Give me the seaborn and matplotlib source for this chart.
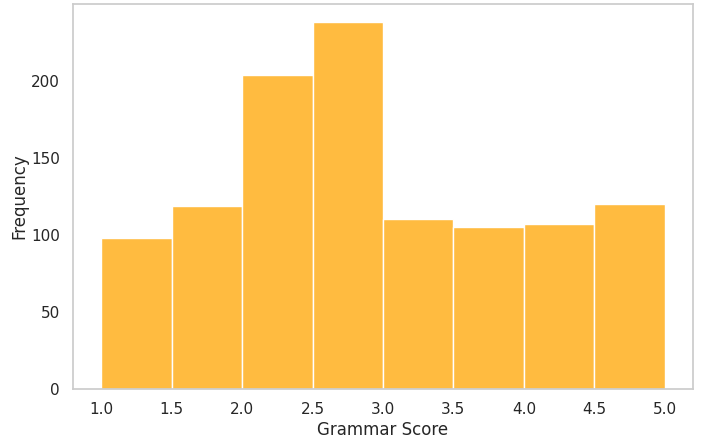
import matplotlib
matplotlib.use("Agg")
import matplotlib.pyplot as plt
import seaborn as sns
import numpy as np

bin_edges = [1.0, 1.5, 2.0, 2.5, 3.0, 3.5, 4.0, 4.5, 5.0]
counts = [98, 119, 204, 238, 110, 105, 107, 120]
centers = [(a + b) / 2 for a, b in zip(bin_edges[:-1], bin_edges[1:])]

sns.set_theme(style="whitegrid")
fig, ax = plt.subplots(figsize=(7.02, 4.4), dpi=100)
sns.histplot(x=centers, weights=counts, bins=bin_edges, color="orange", alpha=0.75,
             edgecolor="white", linewidth=1, ax=ax)
ax.grid(False)
ax.set_xlabel("Grammar Score", labelpad=3)
ax.set_ylabel("Frequency", labelpad=2)
ax.set_xticks([1.0, 1.5, 2.0, 2.5, 3.0, 3.5, 4.0, 4.5, 5.0])
for s in ax.spines.values():
    s.set_color("#cccccc")
fig.subplots_adjust(left=0.104, right=0.987, top=0.991, bottom=0.116)
fig.savefig("out.png", dpi=100)
